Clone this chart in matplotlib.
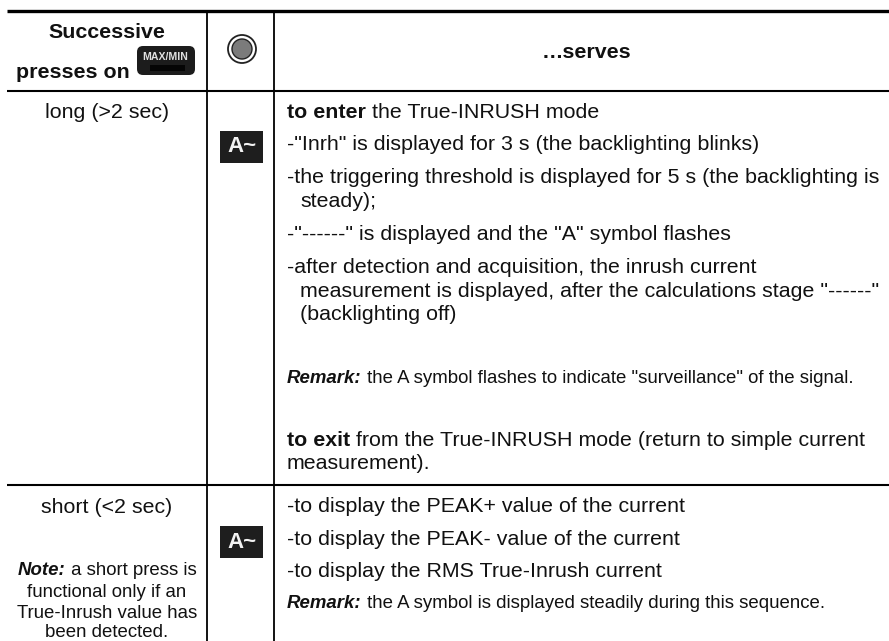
import matplotlib
matplotlib.use("Agg")
import matplotlib.pyplot as plt
from matplotlib.patches import Rectangle, Circle, FancyBboxPatch

plt.rcParams['font.family'] = ['Liberation Sans', 'DejaVu Sans']

W, H = 889, 641
FS = 15.4
SMALL = 13.4

left_rows = [(107, 118, "long (>2 sec)"), (107, 513, "short (<2 sec)")]

right_lines = [
    (287, 118, [("to enter", "b"), (" the True-INRUSH mode", "r")], FS),
    (287, 150, [('-"Inrh" is displayed for 3 s (the backlighting blinks)', "r")], FS),
    (287, 183, [("-the triggering threshold is displayed for 5 s (the backlighting is", "r")], FS),
    (300, 207, [("steady);", "r")], FS),
    (287, 240, [('-"------" is displayed and the "A" symbol flashes', "r")], FS),
    (287, 273, [("-after detection and acquisition, the inrush current", "r")], FS),
    (300, 297, [('measurement is displayed, after the calculations stage "------"', "r")], FS),
    (300, 320, [("(backlighting off)", "r")], FS),
    (287, 383, [("Remark:", "bi"), (' the A symbol flashes to indicate "surveillance" of the signal.', "r")], SMALL),
    (287, 446, [("to exit", "b"), (" from the True-INRUSH mode (return to simple current", "r")], FS),
    (287, 469, [("measurement).", "r")], FS),
    (287, 512, [("-to display the PEAK+ value of the current", "r")], FS),
    (287, 545, [("-to display the PEAK- value of the current", "r")], FS),
    (287, 577, [("-to display the RMS True-Inrush current", "r")], FS),
    (287, 608, [("Remark:", "bi"), (" the A symbol is displayed steadily during this sequence.", "r")], SMALL),
]
left_note = [
    (107, 575, [("Note:", "bi"), (" a short press is", "r")]),
    (107, 597, [("functional only if an", "r")]),
    (107, 618, [("True-Inrush value has", "r")]),
    (107, 637, [("been detected.", "r")]),
]
icon_rows = [131, 526]

STYLES = {"r": dict(), "b": dict(fontweight="bold"),
          "bi": dict(fontweight="bold", fontstyle="italic")}

fig = plt.figure(figsize=(W / 100, H / 100), dpi=100, facecolor="white")
ax = fig.add_axes([0, 0, 1, 1])
ax.set_xlim(0, W)
ax.set_ylim(H, 0)
ax.axis("off")
fig.canvas.draw()
rend = fig.canvas.get_renderer()


def runs(x, y, parts, size=FS, center=False):
    artists = [ax.text(x, y, s, fontsize=size, va="baseline", ha="left",
                       color="#111111", **STYLES[st]) for s, st in parts]
    widths = [a.get_window_extent(rend).width for a in artists]
    cx = x - sum(widths) / 2 if center else x
    for a, w in zip(artists, widths):
        a.set_x(cx)
        cx += w


# rules
ax.plot([7, 889], [10.5, 10.5], color="black", lw=2.4, solid_capstyle="butt")
ax.plot([7, 889], [90.5, 90.5], color="black", lw=1.5, solid_capstyle="butt")
ax.plot([7, 889], [485, 485], color="black", lw=1.5, solid_capstyle="butt")
ax.plot([207, 207], [10, 641], color="black", lw=1.3, solid_capstyle="butt")
ax.plot([274, 274], [10, 641], color="black", lw=1.3, solid_capstyle="butt")

# header
ax.text(107, 38, "Successive", fontsize=FS, fontweight="bold", ha="center", va="baseline", color="#111111")
ax.text(16, 78, "presses on", fontsize=FS, fontweight="bold", ha="left", va="baseline", color="#111111")
ax.text(586, 58, "…serves", fontsize=FS, fontweight="bold", ha="center", va="baseline", color="#111111")

# MAX/MIN button
ax.add_patch(FancyBboxPatch((137, 46), 58, 29, boxstyle="round,pad=0,rounding_size=6",
                            fc="#1c1c1c", ec="none"))
ax.add_patch(Rectangle((150, 65), 35, 6, fc="#050505", ec="none"))
ax.text(165.5, 57, "MAX/MIN", fontsize=7.6, fontweight="bold", color="#e0e0e0",
        ha="center", va="center")

# round symbol
ax.add_patch(Circle((242, 49), 14, fc="white", ec="#222222", lw=1.3))
ax.add_patch(Circle((242, 49), 10, fc="#7b7b7b", ec="#222222", lw=1.0))

# left column
for x, y, s in left_rows:
    ax.text(x, y, s, fontsize=FS, ha="center", va="baseline", color="#111111")
for x, y, parts in left_note:
    runs(x, y, parts, size=SMALL, center=True)

# icons
for y0 in icon_rows:
    ax.add_patch(Rectangle((220, y0), 43, 32, fc="#1e1e1e", ec="none"))
    ax.text(241.5, y0 + 16, "A~", fontsize=16, fontweight="bold", color="#f2f2f2",
            ha="center", va="center")

# right column
for x, y, parts, size in right_lines:
    runs(x, y, parts, size=size)

fig.savefig("out.png", dpi=100, facecolor="white")
